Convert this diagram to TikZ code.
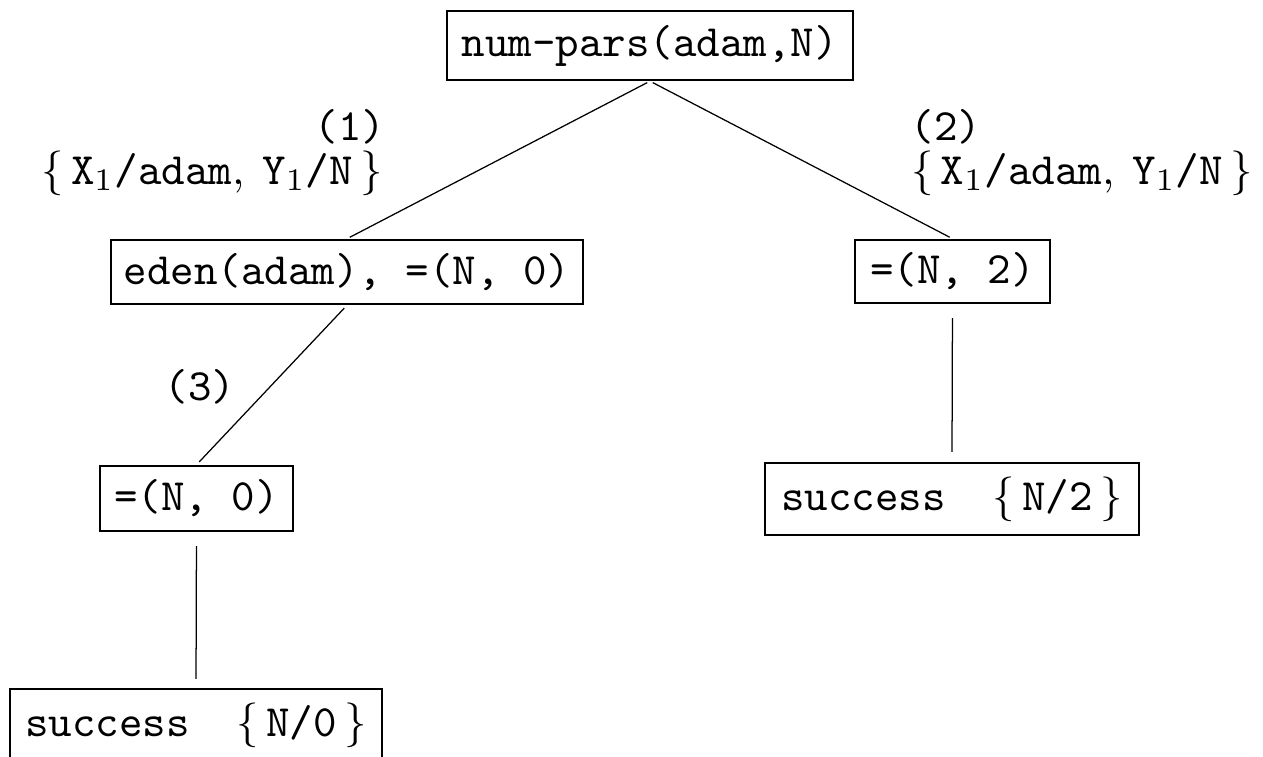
\documentclass[tikz,border=0pt]{standalone}
\begin{document}
\begin{tikzpicture}[x=0.2234pt,y=-0.2234pt,
  box/.style={draw, line width=0.55pt, inner sep=0pt, font=\ttfamily, anchor=center},
  conn/.style={line width=0.28pt},
  lab/.style={font=\ttfamily, inner sep=0pt}]
\useasboundingbox (0,0) rectangle (1263,757);
\node[box, minimum width=90.7pt, minimum height=15.4pt] (top) at (650,45.5) {num-pars(adam,N)};
\node[box, minimum width=105.4pt, minimum height=14.3pt] (eden) at (347,272) {eden(adam), =(N, 0)};
\node[box, minimum width=43.6pt, minimum height=14.1pt] (eqtwo) at (952.5,271.5) {=(N, 2)};
\node[box, minimum width=43.1pt, minimum height=14.5pt] (eqzero) at (196.5,498.5) {=(N, 0)};
\node[box, minimum width=83.1pt, minimum height=16.1pt] (szero) at (196,725) {success~~$\{\,$N/0$\,\}$};
\node[box, minimum width=83.6pt, minimum height=16.1pt] (stwo) at (952,499) {success~~$\{\,$N/2$\,\}$};
\draw[conn, shorten <=0.7pt, shorten >=0.7pt] (top.south) -- (eden.north);
\draw[conn, shorten <=0.7pt, shorten >=0.7pt] (top.south) -- (eqtwo.north);
\draw[conn, shorten <=0.9pt, shorten >=0.9pt] (eden.south) -- (eqzero.north);
\draw[conn, shorten <=3.1pt, shorten >=2.2pt] (eqtwo.south) -- (stwo.north);
\draw[conn, shorten <=3.1pt, shorten >=2.0pt] (eqzero.south) -- (szero.north);
\node[lab] (l1) at (350,127) {(1)};
\node[lab] (s1) at (212,173) {$\{\,$X$_1$/adam$,$\hspace{4pt}Y$_1$/N$\,\}$};
\node[lab] (l2) at (946,127) {(2)};
\node[lab] (s2) at (1082,173) {$\{\,$X$_1$/adam$,$\hspace{4pt}Y$_1$/N$\,\}$};
\node[lab] (l3) at (200,387) {(3)};
\end{tikzpicture}
\end{document}
